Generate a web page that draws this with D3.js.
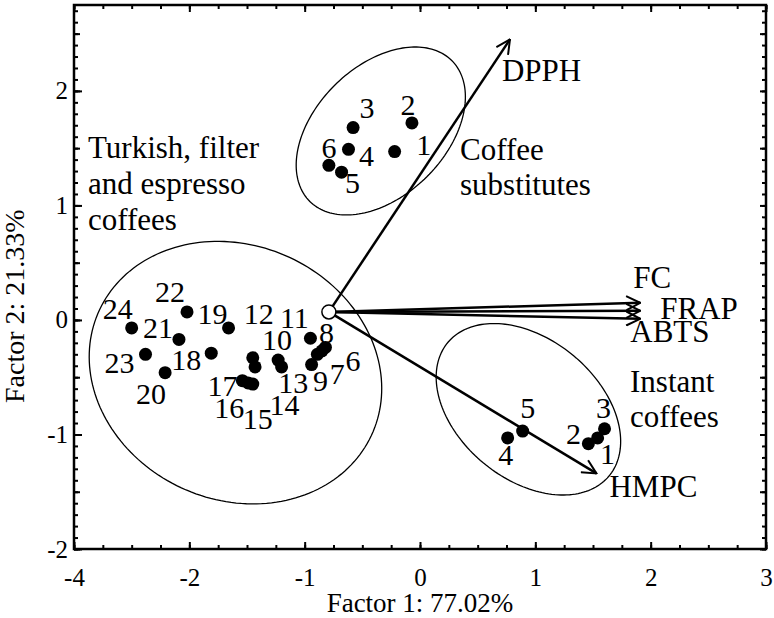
<!DOCTYPE html>
<html>
<head>
<meta charset="utf-8">
<script src="https://cdn.jsdelivr.net/npm/d3@7"></script>
<style>
  body { margin: 0; background: #fff; }
</style>
</head>
<body>
<div id="chart"></div>
<script>
// factor scores: [label, factor 1, factor 2]
const substitutes = [
  ["1", -0.22, 1.47], ["2", -0.07, 1.72], ["3", -0.58, 1.68],
  ["4", -0.62, 1.49], ["5", -0.68, 1.29], ["6", -0.79, 1.35]
];
const instant = [
  ["1", 1.54, -1.03], ["2", 1.46, -1.08], ["3", 1.60, -0.95],
  ["4", 0.76, -1.03], ["5", 0.89, -0.97]
];
const turkish = [
  ["6", -0.85, -0.27], ["7", -0.89, -0.30], ["8", -0.82, -0.24],
  ["9", -0.94, -0.39], ["10", -1.43, -0.41], ["11", -0.95, -0.16],
  ["12", -1.45, -0.33], ["13", -1.23, -0.35], ["14", -1.20, -0.41],
  ["15", -1.45, -0.56], ["16", -1.49, -0.55], ["17", -1.54, -0.53],
  ["18", -1.81, -0.29], ["19", -1.66, -0.07], ["20", -2.21, -0.46],
  ["21", -2.09, -0.17], ["22", -2.02, 0.07], ["23", -2.38, -0.30],
  ["24", -2.50, -0.07]
];

// loading vectors (scaled) drawn from a common origin
const vectorOrigin = [-0.79, 0.07];
const vectors = [
  ["DPPH", 0.78, 2.45], ["FC", 1.91, 0.15], ["FRAP", 1.91, 0.08],
  ["ABTS", 1.91, 0.01], ["HMPC", 1.53, -1.34]
];

// group ellipses: [name, centre x, centre y, radius x, radius y, angle deg]
const groups = [
  ["substitutes", -0.34, 1.65, 0.87, 0.565, 45],
  ["turkish", -1.6, -0.46, 1.3, 1.11, -25],
  ["instant", 0.94, -0.78, 0.91, 0.61, -40]
];

const xTickValues = [-3, -2, -1, 0, 1, 2, 3];
const xTickLabels = ["-4", "-2", "-1", "0", "1", "2", "3"];
const yTickValues = [-2, -1, 0, 1, 2];
const yTickLabels = ["-2", "-1", "0", "1", "2"];

// label placement (pixels from the dot)
const labelOffsets = {
  substitutes: { "1": [29, -7], "2": [-4, -18], "3": [14, -20], "4": [18, 6], "5": [11, 10], "6": [0, -18] },
  instant: { "1": [10, 16], "2": [-15, -10], "3": [-1, -21], "4": [-2, 17], "5": [5, -24] },
  turkish: {
    "24": [-14, -19], "22": [-17, -20], "21": [-21, -12], "19": [-16, -14], "12": [6, -44],
    "11": [-16, -21], "10": [22, -27], "8": [1, -15], "23": [-26, 8], "18": [-25, 6],
    "20": [-14, 21], "17": [-20, 5], "13": [15, 22], "9": [9, 16], "7": [20, 19],
    "6": [31, 10], "16": [-19, 25], "15": [5, 34], "14": [3, 38]
  }
};
const vectorLabelOffsets = { DPPH: [-8, 42], FC: [-7, -15], FRAP: [20, 8], ABTS: [-10, 23], HMPC: [13, 24] };

const W = 774, H = 618;
const margin = { top: 5, right: 8, bottom: 69, left: 74 };
const FONT = "'Liberation Serif', 'Times New Roman', Times, 'DejaVu Serif', serif";

const svg = d3.select("#chart").append("svg")
  .attr("width", W).attr("height", H)
  .attr("font-family", FONT);

const x = d3.scaleLinear().domain([-3, 3]).range([margin.left, W - margin.right]);
const y = d3.scaleLinear().domain([-2, 2.75]).range([H - margin.bottom, margin.top]);

svg.append("defs").append("marker")
  .attr("id", "head")
  .attr("markerUnits", "userSpaceOnUse")
  .attr("viewBox", "0 0 16 16")
  .attr("refX", 15).attr("refY", 8)
  .attr("markerWidth", 16).attr("markerHeight", 16)
  .attr("orient", "auto")
  .append("path")
  .attr("d", "M1,1 L15,8 L1,15")
  .attr("fill", "none").attr("stroke", "#000").attr("stroke-width", 2);

// ticks, all pointing inwards
const xMinor = d3.range(-3, 3.001, 0.25);
const yMinor = d3.range(-2, 2.751, 0.1);
const yHalf = d3.range(-2, 2.751, 0.5);

function tickLayer(axis, tx, ty) {
  const g = svg.append("g").attr("transform", `translate(${tx},${ty})`).call(axis);
  g.attr("font-family", FONT);
  g.select(".domain").remove();
  g.selectAll(".tick line").attr("stroke-width", 2);
  return g;
}
const bottom = H - margin.bottom, right = W - margin.right;
tickLayer(d3.axisBottom(x).tickValues(xMinor).tickSize(-4).tickFormat(""), 0, bottom);
tickLayer(d3.axisTop(x).tickValues(xMinor).tickSize(-4).tickFormat(""), 0, margin.top);
tickLayer(d3.axisTop(x).tickValues(xTickValues).tickSize(-7).tickFormat(""), 0, margin.top);
tickLayer(d3.axisLeft(y).tickValues(yMinor).tickSize(-4).tickFormat(""), margin.left, 0);
tickLayer(d3.axisLeft(y).tickValues(yHalf).tickSize(-6).tickFormat(""), margin.left, 0);
tickLayer(d3.axisRight(y).tickValues(yMinor).tickSize(-4).tickFormat(""), right, 0);
tickLayer(d3.axisRight(y).tickValues(yHalf).tickSize(-6).tickFormat(""), right, 0);

const xAx = tickLayer(d3.axisBottom(x).tickValues(xTickValues).tickSize(-7)
  .tickPadding(19).tickFormat((d, i) => xTickLabels[i]), 0, bottom);
xAx.selectAll("text").attr("font-size", 25);
const yAx = tickLayer(d3.axisLeft(y).tickValues(yTickValues).tickSize(-8)
  .tickPadding(6).tickFormat((d, i) => yTickLabels[i]), margin.left, 0);
yAx.selectAll("text").attr("font-size", 25);

svg.append("rect")
  .attr("x", margin.left).attr("y", margin.top)
  .attr("width", right - margin.left).attr("height", bottom - margin.top)
  .attr("fill", "none").attr("stroke", "#000").attr("stroke-width", 2.5);

svg.append("text").attr("x", (margin.left + right) / 2).attr("y", 612)
  .attr("text-anchor", "middle").attr("font-size", 27).text("Factor 1: 77.02%");
svg.append("text").attr("transform", `translate(24,${y(0.12)}) rotate(-90)`)
  .attr("text-anchor", "middle").attr("font-size", 28).text("Factor 2: 21.33%");

// ellipses
const line = d3.line().curve(d3.curveLinearClosed);
svg.selectAll(".group").data(groups).enter().append("path")
  .attr("class", "group")
  .attr("fill", "none").attr("stroke", "#000").attr("stroke-width", 1.3)
  .attr("d", ([, cx, cy, rx, ry, ang]) => {
    const a = ang * Math.PI / 180;
    return line(d3.range(0, 2 * Math.PI, Math.PI / 90).map(t => {
      const ex = cx + rx * Math.cos(t) * Math.cos(a) - ry * Math.sin(t) * Math.sin(a);
      const ey = cy + rx * Math.cos(t) * Math.sin(a) + ry * Math.sin(t) * Math.cos(a);
      return [x(ex), y(ey)];
    }));
  });

// loading arrows
svg.selectAll(".vec").data(vectors).enter().append("line")
  .attr("class", "vec")
  .attr("x1", x(vectorOrigin[0])).attr("y1", y(vectorOrigin[1]))
  .attr("x2", d => x(d[1])).attr("y2", d => y(d[2]))
  .attr("stroke", "#000").attr("stroke-width", 2.5)
  .attr("marker-end", "url(#head)");

svg.selectAll(".vecLabel").data(vectors).enter().append("text")
  .attr("class", "vecLabel")
  .attr("x", d => x(d[1]) + vectorLabelOffsets[d[0]][0])
  .attr("y", d => y(d[2]) + vectorLabelOffsets[d[0]][1])
  .attr("font-size", 31).text(d => d[0]);

svg.append("circle")
  .attr("cx", x(vectorOrigin[0])).attr("cy", y(vectorOrigin[1])).attr("r", 7)
  .attr("fill", "#fff").attr("stroke", "#000").attr("stroke-width", 1.5);

// points and their numbers
[["substitutes", substitutes], ["instant", instant], ["turkish", turkish]].forEach(([key, pts]) => {
  const g = svg.append("g");
  g.selectAll("circle").data(pts).enter().append("circle")
    .attr("cx", d => x(d[1])).attr("cy", d => y(d[2])).attr("r", 6.5).attr("fill", "#000");
  g.selectAll("text").data(pts).enter().append("text")
    .attr("x", d => x(d[1]) + labelOffsets[key][d[0]][0])
    .attr("y", d => y(d[2]) + labelOffsets[key][d[0]][1])
    .attr("text-anchor", "middle").attr("dominant-baseline", "central")
    .attr("font-size", 30).text(d => d[0]);
});

// group names
const notes = [
  [88, 158, "Turkish, filter"], [88, 194, "and espresso"], [88, 230, "coffees"],
  [460, 160, "Coffee"], [460, 195, "substitutes"],
  [630, 392, "Instant"], [630, 427, "coffees"]
];
svg.selectAll(".note").data(notes).enter().append("text")
  .attr("class", "note")
  .attr("x", d => d[0]).attr("y", d => d[1])
  .attr("font-size", 31).text(d => d[2]);
</script>
</body>
</html>
